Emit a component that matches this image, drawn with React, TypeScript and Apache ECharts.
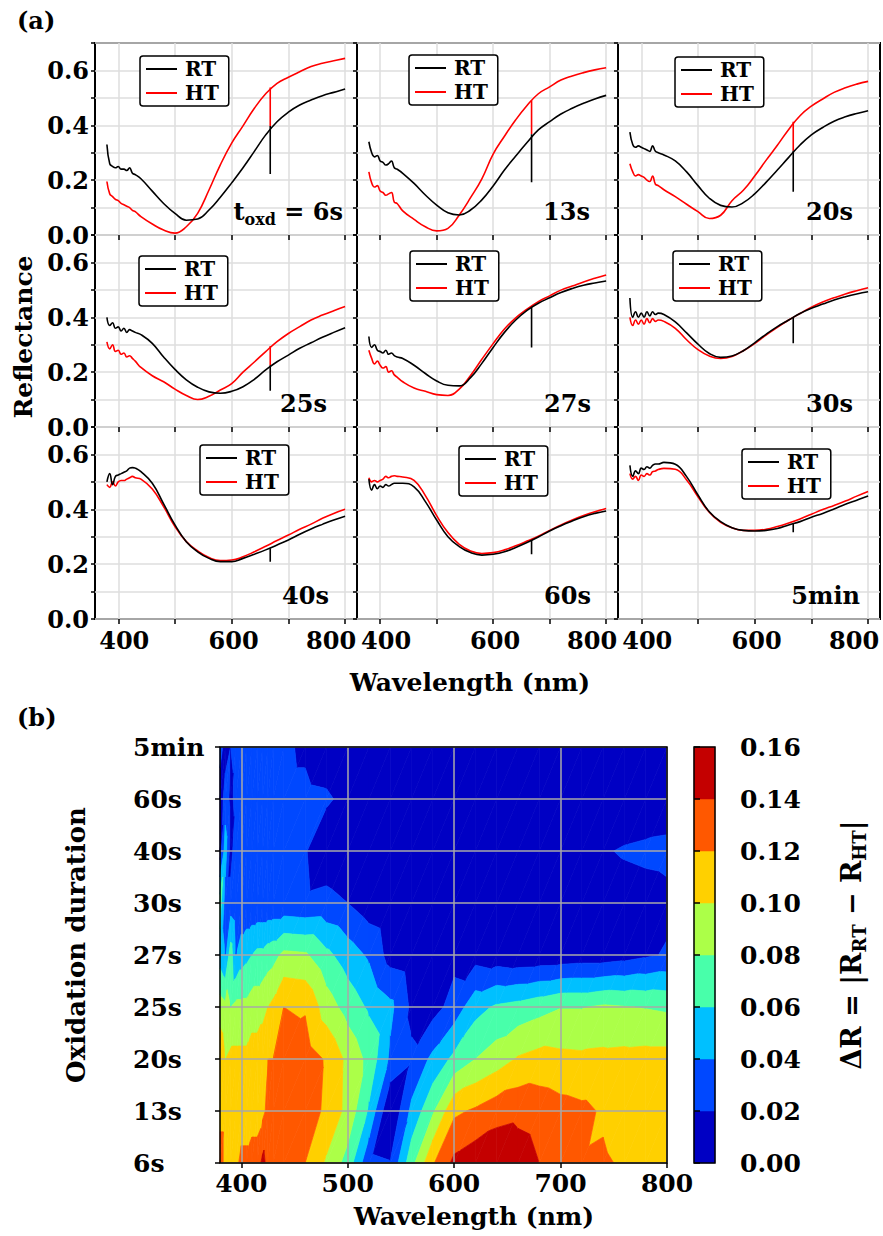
import React, { useEffect, useRef } from "react";
import * as echarts from "echarts";

// ---------------- data ----------------
const WAVELENGTHS = [380, 385, 390, 395, 400, 405, 410, 415, 420, 425, 430, 440, 460, 480, 500, 520, 540, 560, 580, 600, 620, 640, 660, 680, 700, 720, 740, 760, 780, 800];
const DURATIONS = ["6s", "13s", "20s", "25s", "27s", "30s", "40s", "60s", "5min"];

const RT_6S = [0.33, 0.26, 0.25, 0.245, 0.25, 0.24, 0.24, 0.235, 0.245, 0.225, 0.22, 0.205, 0.16, 0.115, 0.079, 0.054, 0.058, 0.091, 0.138, 0.19, 0.245, 0.305, 0.365, 0.413, 0.448, 0.474, 0.492, 0.508, 0.52, 0.532];
const HT_6S = [0.195, 0.15, 0.14, 0.13, 0.125, 0.115, 0.11, 0.105, 0.1, 0.09, 0.085, 0.067, 0.04, 0.018, 0.007, 0.03, 0.079, 0.164, 0.256, 0.335, 0.398, 0.462, 0.515, 0.553, 0.575, 0.595, 0.614, 0.626, 0.635, 0.644];
const RT_13S = [0.34, 0.3, 0.285, 0.29, 0.27, 0.265, 0.255, 0.26, 0.27, 0.245, 0.24, 0.225, 0.188, 0.146, 0.109, 0.081, 0.073, 0.091, 0.128, 0.179, 0.237, 0.288, 0.337, 0.383, 0.413, 0.441, 0.462, 0.48, 0.496, 0.509];
const HT_13S = [0.23, 0.19, 0.175, 0.18, 0.16, 0.155, 0.145, 0.15, 0.155, 0.12, 0.115, 0.088, 0.057, 0.03, 0.015, 0.024, 0.073, 0.136, 0.205, 0.295, 0.36, 0.42, 0.472, 0.515, 0.54, 0.565, 0.58, 0.592, 0.602, 0.61];
const RT_20S = [0.375, 0.33, 0.32, 0.325, 0.32, 0.315, 0.31, 0.305, 0.325, 0.305, 0.3, 0.292, 0.27, 0.23, 0.18, 0.134, 0.108, 0.102, 0.118, 0.15, 0.192, 0.237, 0.283, 0.328, 0.365, 0.392, 0.415, 0.431, 0.443, 0.453];
const HT_20S = [0.26, 0.23, 0.215, 0.22, 0.215, 0.21, 0.2, 0.195, 0.215, 0.185, 0.18, 0.165, 0.14, 0.112, 0.085, 0.06, 0.072, 0.125, 0.163, 0.215, 0.272, 0.327, 0.385, 0.435, 0.47, 0.496, 0.52, 0.537, 0.55, 0.56];
const RT_25S = [0.4, 0.37, 0.38, 0.36, 0.365, 0.35, 0.36, 0.345, 0.355, 0.35, 0.345, 0.337, 0.305, 0.255, 0.21, 0.172, 0.145, 0.128, 0.123, 0.13, 0.147, 0.174, 0.208, 0.238, 0.262, 0.287, 0.307, 0.327, 0.345, 0.362];
const HT_25S = [0.31, 0.285, 0.3, 0.275, 0.28, 0.265, 0.27, 0.255, 0.26, 0.25, 0.24, 0.217, 0.187, 0.165, 0.138, 0.115, 0.1, 0.112, 0.135, 0.158, 0.2, 0.237, 0.275, 0.311, 0.341, 0.366, 0.39, 0.408, 0.424, 0.439];
const RT_27S = [0.33, 0.29, 0.3, 0.28, 0.275, 0.27, 0.28, 0.265, 0.27, 0.26, 0.255, 0.25, 0.225, 0.195, 0.168, 0.152, 0.15, 0.18, 0.232, 0.29, 0.345, 0.39, 0.425, 0.451, 0.471, 0.49, 0.505, 0.517, 0.525, 0.532];
const HT_27S = [0.28, 0.25, 0.23, 0.24, 0.225, 0.215, 0.22, 0.2, 0.205, 0.19, 0.182, 0.165, 0.142, 0.13, 0.118, 0.115, 0.138, 0.188, 0.247, 0.304, 0.357, 0.398, 0.43, 0.457, 0.478, 0.499, 0.514, 0.529, 0.542, 0.554];
const RT_30S = [0.47, 0.4, 0.42, 0.4, 0.415, 0.4, 0.42, 0.405, 0.42, 0.41, 0.415, 0.41, 0.383, 0.343, 0.302, 0.268, 0.254, 0.259, 0.278, 0.307, 0.338, 0.366, 0.39, 0.414, 0.433, 0.448, 0.463, 0.475, 0.485, 0.493];
const HT_30S = [0.4, 0.37, 0.39, 0.375, 0.39, 0.375, 0.395, 0.38, 0.395, 0.385, 0.39, 0.385, 0.36, 0.318, 0.282, 0.259, 0.25, 0.257, 0.278, 0.304, 0.335, 0.363, 0.39, 0.414, 0.437, 0.456, 0.471, 0.485, 0.497, 0.508];
const RT_40S = [0.5, 0.53, 0.49, 0.52, 0.525, 0.53, 0.535, 0.54, 0.55, 0.552, 0.55, 0.537, 0.495, 0.42, 0.343, 0.282, 0.245, 0.221, 0.209, 0.209, 0.221, 0.236, 0.252, 0.27, 0.288, 0.309, 0.328, 0.345, 0.361, 0.375];
const HT_40S = [0.49, 0.48, 0.5, 0.485, 0.5, 0.505, 0.505, 0.51, 0.515, 0.52, 0.515, 0.51, 0.474, 0.41, 0.337, 0.282, 0.248, 0.224, 0.213, 0.215, 0.227, 0.245, 0.265, 0.286, 0.306, 0.327, 0.346, 0.367, 0.385, 0.4];
const RT_60S = [0.51, 0.47, 0.49, 0.475, 0.485, 0.48, 0.49, 0.485, 0.49, 0.495, 0.495, 0.495, 0.482, 0.428, 0.361, 0.3, 0.264, 0.242, 0.233, 0.236, 0.245, 0.261, 0.279, 0.299, 0.321, 0.34, 0.357, 0.373, 0.385, 0.394];
const HT_60S = [0.515, 0.5, 0.505, 0.5, 0.505, 0.51, 0.52, 0.515, 0.52, 0.522, 0.52, 0.518, 0.505, 0.45, 0.377, 0.315, 0.272, 0.248, 0.239, 0.242, 0.252, 0.267, 0.284, 0.302, 0.323, 0.343, 0.361, 0.377, 0.391, 0.403];
const RT_5MIN = [0.56, 0.52, 0.54, 0.53, 0.55, 0.545, 0.555, 0.55, 0.56, 0.565, 0.565, 0.571, 0.564, 0.519, 0.452, 0.391, 0.355, 0.333, 0.323, 0.321, 0.323, 0.33, 0.343, 0.355, 0.371, 0.385, 0.401, 0.418, 0.433, 0.448];
const HT_5MIN = [0.53, 0.51, 0.52, 0.505, 0.525, 0.52, 0.53, 0.525, 0.537, 0.54, 0.545, 0.549, 0.546, 0.507, 0.446, 0.389, 0.352, 0.333, 0.323, 0.323, 0.327, 0.337, 0.35, 0.365, 0.382, 0.399, 0.414, 0.43, 0.448, 0.465];

const RT_ALL = [RT_6S, RT_13S, RT_20S, RT_25S, RT_27S, RT_30S, RT_40S, RT_60S, RT_5MIN];
const HT_ALL = [HT_6S, HT_13S, HT_20S, HT_25S, HT_27S, HT_30S, HT_40S, HT_60S, HT_5MIN];

// detector glitch near 668 nm: [top, bottom] per duration
const SPIKE_NM = 668;
const RT_SPIKES = [[0.397, 0.222], [0.367, 0.192], [0.307, 0.158], [0.225, 0.132], [0.436, 0.29], [0.4, 0.305], [0.258, 0.209], [0.288, 0.236], [0.346, 0.316]];
const HT_SPIKES = [[0.538, 0.397], [0.49, 0.367], [0.413, 0.307], [0.295, 0.225], [0.44, 0.436], [0.398, 0.398], [0.273, 0.273], [0.291, 0.291], [0.356, 0.356]];

const X_TICKS = [400, 500, 600, 700, 800];
const X_LABELS_A = [400, 600, 800];
const LEVELS = [0, 0.02, 0.04, 0.06, 0.08, 0.1, 0.12, 0.14, 0.16];
const LEVEL_COLORS = ["#0000c4", "#0048ff", "#00c0ff", "#48ffaa", "#acff48", "#ffd000", "#ff5800", "#c40000"];

// ---------------- layout ----------------
const FONT = "DejaVu Serif";
const PANEL_LEFT = [95, 357, 618];
const PANEL_WIDTH = [262, 261, 262];
const PANEL_TOP = [43, 235, 427];
const PANEL_HEIGHT = 192;
const LEGEND_POS = [[140, 56], [409, 55], [675, 57], [139, 256], [410, 251], [673, 251], [200, 445], [459, 446], [742, 449]];
const TAG_RIGHT = [343, 590, 853, 327, 591, 853, 329, 591, 860];
const HEAT = { left: 220, top: 747, width: 447, height: 416 };
const CBAR = { left: 694, top: 747, width: 21, height: 416 };

const txt = (size: number) => ({ fontFamily: FONT, fontWeight: "bold" as const, fontSize: size, color: "#000" });

function clipPoly(pts: number[][], level: number, keepAbove: boolean): number[][] {
  const out: number[][] = [];
  for (let i = 0; i < pts.length; i++) {
    const a = pts[i];
    const b = pts[(i + 1) % pts.length];
    const ina = keepAbove ? a[2] >= level : a[2] <= level;
    const inb = keepAbove ? b[2] >= level : b[2] <= level;
    if (ina) out.push(a);
    if (ina !== inb) {
      const t = (level - a[2]) / (b[2] - a[2]);
      out.push([a[0] + t * (b[0] - a[0]), a[1] + t * (b[1] - a[1]), level]);
    }
  }
  return out;
}

function buildOption() {
  const grids: any[] = [];
  const xAxes: any[] = [];
  const yAxes: any[] = [];
  const series: any[] = [];
  const legends: any[] = [];
  const graphics: any[] = [];

  for (let i = 0; i < 9; i++) {
    const r = Math.floor(i / 3);
    const c = i % 3;
    grids.push({
      left: PANEL_LEFT[c], top: PANEL_TOP[r], width: PANEL_WIDTH[c], height: PANEL_HEIGHT,
      show: true, borderColor: "#000", borderWidth: 2, backgroundColor: "transparent",
      containLabel: false, outerBoundsMode: "none",
    });
    xAxes.push({
      type: "value", gridIndex: i, min: 359, max: 821,
      axisLine: { show: false },
      axisTick: { show: true, customValues: X_TICKS, length: 5, lineStyle: { color: "#000", width: 1.5 } },
      axisLabel: {
        show: r === 2, customValues: X_LABELS_A, margin: 9, ...txt(24),
        formatter: (v: number) => (v === 400 ? "{l|400}" : v === 800 ? "{r|800}" : "{c|" + v + "}"),
        rich: {
          l: { ...txt(24), padding: [0, 0, 0, 12] },
          c: { ...txt(24), padding: [0, 0, 0, 4] },
          r: { ...txt(24), padding: [0, 28, 0, 0] },
        },
      },
      splitLine: { show: true, lineStyle: { color: "#dedede", width: 1.5 } },
    });
    yAxes.push({
      type: "value", gridIndex: i, min: 0, max: 0.7, interval: 0.1,
      axisLine: { show: false },
      axisTick: { show: true, length: 4, lineStyle: { color: "#000", width: 1.5 } },
      axisLabel: {
        show: c === 0, margin: 6, ...txt(24),
        formatter: (v: number) => {
          const n = Math.round(v * 10);
          return n % 2 === 0 && n <= 6 ? (n / 10).toFixed(1) : "";
        },
      },
      splitLine: { show: true, lineStyle: { color: "#dedede", width: 1.5 } },
    });
    const common = { type: "line", xAxisIndex: i, yAxisIndex: i, symbol: "none", showSymbol: false, silent: true };
    series.push({ ...common, name: "HT", data: WAVELENGTHS.map((w, k) => [w, HT_ALL[i][k]]), smooth: 0.45, lineStyle: { color: "#ff0000", width: 1.6 }, itemStyle: { color: "#ff0000" }, z: 3 });
    series.push({ ...common, name: "HT glitch", data: [[SPIKE_NM, HT_SPIKES[i][0]], [SPIKE_NM, HT_SPIKES[i][1]]], lineStyle: { color: "#ff0000", width: 1.6 }, itemStyle: { color: "#ff0000" }, z: 3 });
    series.push({ ...common, name: "RT", data: WAVELENGTHS.map((w, k) => [w, RT_ALL[i][k]]), smooth: 0.45, lineStyle: { color: "#000", width: 1.6 }, itemStyle: { color: "#000" }, z: 4 });
    series.push({ ...common, name: "RT glitch", data: [[SPIKE_NM, RT_SPIKES[i][0]], [SPIKE_NM, RT_SPIKES[i][1]]], lineStyle: { color: "#000", width: 1.6 }, itemStyle: { color: "#000" }, z: 4 });

    legends.push({
      left: LEGEND_POS[i][0], top: LEGEND_POS[i][1], orient: "vertical", data: ["RT", "HT"],
      selectedMode: false, icon: "rect", itemWidth: 31, itemHeight: 2, itemGap: 4, padding: [3, 10, 3, 6],
      borderColor: "#000", borderWidth: 1.5, borderRadius: 3, backgroundColor: "#fff",
      textStyle: { ...txt(20), padding: [0, 0, 0, 3] }, z: 10,
    });

    const tagY = PANEL_TOP[r] + PANEL_HEIGHT - 24;
    if (i === 0) {
      graphics.push({
        type: "text", x: TAG_RIGHT[i], y: tagY, z: 20,
        style: {
          text: "{m|t}{s|oxd}{m| = " + DURATIONS[i] + "}", align: "right", verticalAlign: "middle",
          rich: {
            m: { fontFamily: FONT, fontWeight: "bold", fontSize: 24, lineHeight: 32, fill: "#000" },
            s: { fontFamily: FONT, fontWeight: "bold", fontSize: 16, lineHeight: 16, verticalAlign: "bottom", fill: "#000" },
          },
        },
      });
    } else {
      graphics.push({
        type: "text", x: TAG_RIGHT[i], y: tagY, z: 20,
        style: { text: DURATIONS[i], align: "right", verticalAlign: "middle", fontFamily: FONT, fontWeight: "bold", fontSize: 24, fill: "#000" },
      });
    }
  }

  // ---- panel (b): contour map of |RT - HT| ----
  const deltaR = DURATIONS.map((_, j) => WAVELENGTHS.map((_, k) => Math.abs(RT_ALL[j][k] - HT_ALL[j][k])));
  const hIdx = 9;
  grids.push({ ...HEAT, show: false, containLabel: false, outerBoundsMode: "none" });
  xAxes.push({
    type: "value", gridIndex: hIdx, min: 380, max: 800, z: 5,
    axisLine: { show: false },
    axisTick: { show: true, customValues: X_TICKS, length: 5, lineStyle: { color: "#000", width: 1.5 } },
    axisLabel: { customValues: X_TICKS, margin: 8, ...txt(25) },
    splitLine: { show: true, lineStyle: { color: "#a9a9a9", width: 1.5 } },
  });
  yAxes.push({
    type: "value", gridIndex: hIdx, min: 0, max: 8, interval: 1, z: 5,
    axisLine: { show: false },
    axisTick: { show: true, length: 5, lineStyle: { color: "#000", width: 1.5 } },
    axisLabel: { margin: 87, align: "left", ...txt(25), formatter: (v: number) => DURATIONS[Math.round(v)] },
    splitLine: { show: true, lineStyle: { color: "#a9a9a9", width: 1.5 } },
  });
  series.push({
    type: "custom", xAxisIndex: hIdx, yAxisIndex: hIdx, silent: true, z: 2,
    data: DURATIONS.slice(0, -1).map((_, j) => [WAVELENGTHS[0], j]),
    renderItem: (params: any, api: any) => {
      const j = params.dataIndex;
      const children: any[] = [];
      for (let k = 0; k < WAVELENGTHS.length - 1; k++) {
        const x0 = WAVELENGTHS[k];
        const x1 = WAVELENGTHS[k + 1];
        const a = [x0, j, deltaR[j][k]];
        const b = [x1, j, deltaR[j][k + 1]];
        const cc = [x1, j + 1, deltaR[j + 1][k + 1]];
        const d = [x0, j + 1, deltaR[j + 1][k]];
        for (const tri of [[a, b, cc], [a, cc, d]]) {
          for (let m = 0; m < LEVEL_COLORS.length; m++) {
            let poly = tri;
            if (m > 0) poly = clipPoly(poly, LEVELS[m], true);
            if (poly.length < 3) continue;
            if (m < LEVEL_COLORS.length - 1) poly = clipPoly(poly, LEVELS[m + 1], false);
            if (poly.length < 3) continue;
            children.push({
              type: "polygon",
              shape: { points: poly.map((p) => api.coord([p[0], p[1]])) },
              style: { fill: LEVEL_COLORS[m], stroke: LEVEL_COLORS[m], lineWidth: 0.7 },
            });
          }
        }
      }
      return { type: "group", children };
    },
  });

  // ---- colorbar ----
  const cIdx = 10;
  grids.push({ ...CBAR, show: false, containLabel: false, outerBoundsMode: "none" });
  xAxes.push({ type: "value", gridIndex: cIdx, min: 0, max: 1, show: false });
  yAxes.push({
    type: "value", gridIndex: cIdx, position: "right", min: 0, max: 0.16, interval: 0.02, z: 5,
    axisLine: { show: false },
    axisTick: { show: true, length: 6, lineStyle: { color: "#000", width: 1.5 } },
    axisLabel: { margin: 25, ...txt(25), formatter: (v: number) => v.toFixed(2) },
    splitLine: { show: false },
  });
  series.push({
    type: "custom", xAxisIndex: cIdx, yAxisIndex: cIdx, silent: true, z: 2,
    data: LEVEL_COLORS.map((_, k) => [0, LEVELS[k], LEVELS[k + 1], k]),
    renderItem: (_p: any, api: any) => {
      const p0 = api.coord([0, api.value(2)]);
      const p1 = api.coord([1, api.value(1)]);
      return {
        type: "rect",
        shape: { x: p0[0], y: p0[1], width: p1[0] - p0[0], height: p1[1] - p0[1] },
        style: { fill: LEVEL_COLORS[api.value(3)], stroke: LEVEL_COLORS[api.value(3)], lineWidth: 0.5 },
      };
    },
  });

  // frames and titles
  graphics.push({ type: "rect", z: 50, shape: { x: HEAT.left, y: HEAT.top, width: HEAT.width, height: HEAT.height }, style: { fill: "none", stroke: "#000", lineWidth: 1.5 } });
  graphics.push({ type: "rect", z: 50, shape: { x: CBAR.left, y: CBAR.top, width: CBAR.width, height: CBAR.height }, style: { fill: "none", stroke: "#000", lineWidth: 1.5 } });
  const plain = (text: string, x: number, y: number, size: number, rot = 0, align = "center") => ({
    type: "text", x, y, rotation: rot, z: 20,
    style: { text, align, verticalAlign: "middle", fontFamily: FONT, fontWeight: "bold", fontSize: size, fill: "#000" },
  });
  graphics.push(plain("(a)", 17, 20, 24, 0, "left"));
  graphics.push(plain("(b)", 17, 717, 24, 0, "left"));
  graphics.push(plain("Reflectance", 23, 337, 25, Math.PI / 2));
  graphics.push(plain("Wavelength (nm)", 470, 682, 25));
  graphics.push(plain("Wavelength (nm)", 474, 1216, 25));
  graphics.push(plain("Oxidation duration", 76, 945, 26, Math.PI / 2));
  graphics.push({
    type: "text", x: 851, y: 945, rotation: Math.PI / 2, z: 20,
    style: {
      text: "{m|ΔR = |R}{s|RT}{m| − R}{s|HT}{m||}", align: "center", verticalAlign: "middle",
      rich: {
        m: { fontFamily: FONT, fontWeight: "bold", fontSize: 27, lineHeight: 34, fill: "#000" },
        s: { fontFamily: FONT, fontWeight: "bold", fontSize: 18, lineHeight: 18, verticalAlign: "bottom", fill: "#000" },
      },
    },
  });

  return {
    animation: false,
    backgroundColor: "#fff",
    grid: grids,
    xAxis: xAxes,
    yAxis: yAxes,
    legend: legends,
    series,
    graphic: { elements: graphics },
  };
}

export default function App() {
  const ref = useRef<HTMLDivElement>(null);
  useEffect(() => {
    document.body.style.margin = "0";
    const chart = echarts.init(ref.current as HTMLDivElement, null, { renderer: "svg", width: 883, height: 1236 });
    chart.setOption(buildOption() as any);
    return () => chart.dispose();
  }, []);
  return <div ref={ref} style={{ width: 883, height: 1236 }} />;
}
